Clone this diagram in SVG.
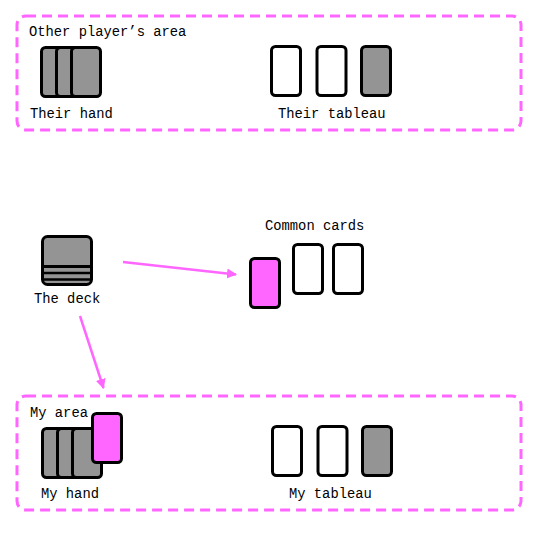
<svg xmlns="http://www.w3.org/2000/svg" width="539" height="539" viewBox="0 0 539 539">
<style>
.area{fill:none;stroke:#ff66ff;stroke-width:3;stroke-dasharray:10 6}
.card{stroke:#000;stroke-width:3}
.back{fill:#949494}
.face{fill:#fff}
.pink{fill:#ff66ff}
.lbl{font-family:"Liberation Mono","DejaVu Sans Mono",monospace;font-size:13.8px;fill:#000}
.conn{stroke:#ff66ff;stroke-width:2.5;fill:none}
</style>
<defs>
<marker id="ah" viewBox="0 0 10 10" refX="9" refY="5" markerWidth="4" markerHeight="4" orient="auto" markerUnits="strokeWidth">
<path d="M0,0 L10,5 L0,10 z" fill="#ff66ff"/>
</marker>
</defs>
<rect width="539" height="539" fill="#fff"/>
<g id="other-area">
<rect class="area" x="17" y="16" width="504" height="114" rx="9"/>
<text class="lbl" x="29" y="36">Other player’s area</text>
</g>
<g id="their-hand">
<rect class="card back" x="41.5" y="47.5" width="29" height="49" rx="4"/>
<rect class="card back" x="56.5" y="47.5" width="29" height="49" rx="4"/>
<rect class="card back" x="71.5" y="47.5" width="29" height="49" rx="4"/>
<text class="lbl" x="30" y="118">Their hand</text>
</g>
<g id="their-tableau">
<rect class="card face" x="271.5" y="46.5" width="29" height="49" rx="4"/>
<rect class="card face" x="317" y="46.5" width="29" height="49" rx="4"/>
<rect class="card back" x="361.5" y="46.5" width="29" height="49" rx="4"/>
<text class="lbl" x="278" y="118">Their tableau</text>
</g>
<g id="deck">
<rect class="card back" x="42.5" y="236.5" width="49" height="48" rx="5"/>
<line x1="42.5" y1="266.5" x2="91.5" y2="266.5" stroke="#000" stroke-width="3"/>
<line x1="42.5" y1="273" x2="91.5" y2="273" stroke="#000" stroke-width="2.5"/>
<line x1="42.5" y1="279.5" x2="91.5" y2="279.5" stroke="#000" stroke-width="2.5"/>
<text class="lbl" x="34" y="303">The deck</text>
</g>
<g id="common-cards">
<text class="lbl" x="265" y="230">Common cards</text>
<rect class="card pink" x="250.5" y="258.5" width="29" height="49" rx="4"/>
<rect class="card face" x="293.5" y="244.5" width="29" height="49" rx="4"/>
<rect class="card face" x="333.5" y="244.5" width="29" height="49" rx="4"/>
</g>
<g id="my-area">
<rect class="area" x="17" y="396" width="504" height="114" rx="9"/>
<text class="lbl" x="30" y="417">My area</text>
</g>
<g id="my-hand">
<rect class="card back" x="42.5" y="428.5" width="29" height="49" rx="4"/>
<rect class="card back" x="57.5" y="428.5" width="29" height="49" rx="4"/>
<rect class="card back" x="72.5" y="428.5" width="29" height="49" rx="4"/>
<rect class="card pink" x="92.5" y="413.5" width="29" height="49" rx="4"/>
<text class="lbl" x="41" y="498">My hand</text>
</g>
<g id="my-tableau">
<rect class="card face" x="272.5" y="426.5" width="29" height="49" rx="4"/>
<rect class="card face" x="318" y="426.5" width="29" height="49" rx="4"/>
<rect class="card back" x="362.5" y="426.5" width="29" height="49" rx="4"/>
<text class="lbl" x="289" y="498">My tableau</text>
</g>
<g id="connectors">
<line class="conn" x1="123" y1="262" x2="236" y2="274.5" marker-end="url(#ah)"/>
<line class="conn" x1="80" y1="316" x2="103.5" y2="388" marker-end="url(#ah)"/>
</g>
</svg>
